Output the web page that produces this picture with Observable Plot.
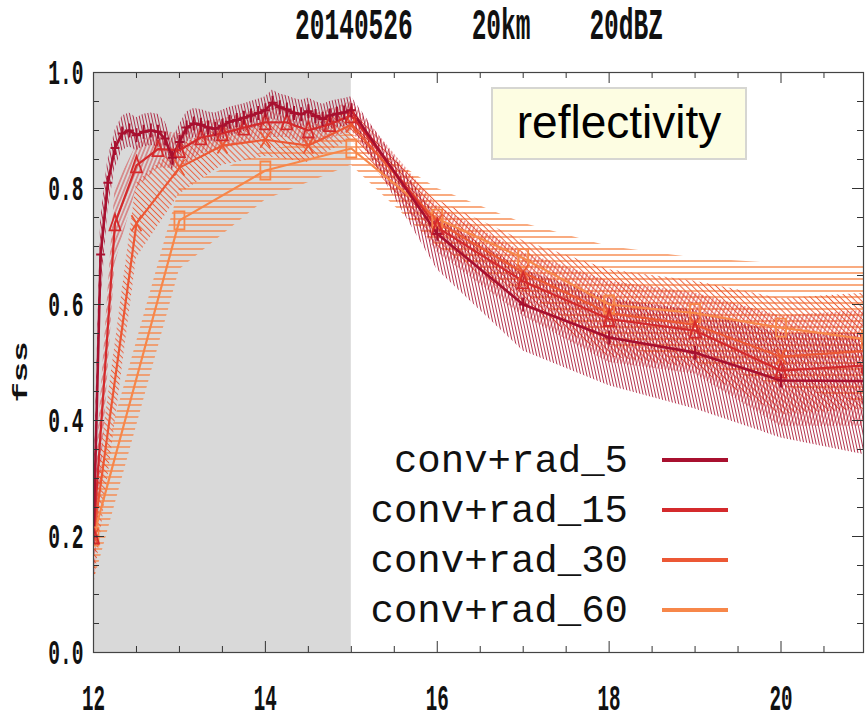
<!DOCTYPE html>
<html>
<head>
<meta charset="utf-8">
<script src="https://cdn.jsdelivr.net/npm/d3@7"></script>
<script src="https://cdn.jsdelivr.net/npm/@observablehq/plot@0.6"></script>
<style>
  body { margin: 0; background: #fff; }
  #wrap { position: relative; width: 866px; height: 720px; overflow: hidden; }
  #title { height: 60px; position: relative; }
  #title span { position: absolute; left: 479px; top: 5px; white-space: pre; font-family: "Liberation Mono", monospace; font-weight: bold; font-size: 45px; line-height: 45px; color: #111; transform: translate(-50%, 0) scaleX(0.545); }
  #ylab { position: absolute; left: 22px; top: 372px; font-family: "Liberation Mono", monospace; font-weight: bold; font-size: 34px; line-height: 34px; white-space: pre; color: #111; transform: translate(-50%, -50%) scale(0.6, 1) rotate(-90deg); }
  #note { position: absolute; left: 491px; top: 87px; width: 256px; height: 73px; box-sizing: border-box; background: #fdfde2; border: 2px solid #d6d6d2; font-family: "Liberation Sans", Arial, sans-serif; font-size: 46px; line-height: 66px; text-align: center; color: #000; }
  .lgtext { position: absolute; right: 238px; font-family: "Liberation Mono", monospace; font-size: 39px; line-height: 39px; white-space: pre; color: #111; }
  .lgline { position: absolute; left: 662px; width: 66px; height: 4px; }
</style>
</head>
<body>
<div id="wrap">
  <div id="title"><span></span></div>
</div>
<script>
// ---------- data ----------
const titleText = "20140526    20km    20dBZ";
const yTitle = "fss";
const noteText = "reflectivity";
const seriesNames = ["conv+rad_5", "conv+rad_15", "conv+rad_30", "conv+rad_60"];
const seriesColors = ["#a8102f", "#d42a2c", "#ec5835", "#f7874a"];

const t5 = [12.000,12.083,12.167,12.250,12.333,12.417,12.500,12.583,12.667,12.750,12.833,12.917,13.000,13.083,13.167,13.250,13.333,13.417,13.500,13.583,13.667,13.750,13.833,13.917,14.000,14.083,14.167,14.250,14.333,14.417,14.500,14.583,14.667,14.750,14.833,14.917,15.000,16,17,18,19,20,21];
const fss5 = [0.200,0.686,0.810,0.870,0.895,0.900,0.892,0.898,0.900,0.898,0.886,0.853,0.880,0.905,0.912,0.910,0.905,0.903,0.908,0.915,0.918,0.922,0.926,0.930,0.935,0.948,0.940,0.936,0.930,0.928,0.933,0.925,0.920,0.926,0.929,0.931,0.935,0.722,0.600,0.543,0.517,0.469,0.468];
const lo5 = [0.10,0.60,0.76,0.835,0.865,0.872,0.865,0.872,0.874,0.872,0.86,0.83,0.855,0.88,0.888,0.886,0.882,0.88,0.885,0.89,0.894,0.898,0.902,0.906,0.91,0.92,0.915,0.912,0.906,0.904,0.908,0.90,0.896,0.902,0.905,0.907,0.91,0.66,0.52,0.46,0.42,0.37,0.34];
const hi5 = [0.26,0.75,0.85,0.90,0.925,0.93,0.922,0.928,0.93,0.928,0.915,0.885,0.91,0.932,0.938,0.936,0.932,0.93,0.935,0.94,0.943,0.946,0.95,0.954,0.958,0.97,0.963,0.96,0.955,0.952,0.956,0.95,0.945,0.95,0.953,0.955,0.958,0.75,0.66,0.61,0.59,0.55,0.55];

const t15 = [12,12.25,12.5,12.75,13,13.25,13.5,13.75,14,14.25,14.5,14.75,15,16,17,18,19,20,21];
const fss15 = [0.20,0.740,0.840,0.868,0.866,0.888,0.895,0.905,0.914,0.914,0.900,0.911,0.926,0.733,0.640,0.575,0.555,0.486,0.495];
const lo15 = [0.10,0.67,0.80,0.835,0.835,0.86,0.868,0.878,0.888,0.888,0.874,0.885,0.90,0.69,0.58,0.50,0.48,0.39,0.39];
const hi15 = [0.26,0.80,0.875,0.90,0.895,0.915,0.92,0.93,0.938,0.938,0.926,0.936,0.95,0.77,0.69,0.64,0.62,0.58,0.59];

const t30 = [12,12.5,13,13.5,14,14.5,15,16,17,18,19,20,21];
const fss30 = [0.20,0.740,0.836,0.874,0.884,0.874,0.910,0.742,0.655,0.585,0.565,0.510,0.520];
const lo30 = [0.11,0.68,0.79,0.84,0.855,0.845,0.885,0.70,0.60,0.51,0.49,0.41,0.42];
const hi30 = [0.25,0.81,0.875,0.905,0.912,0.905,0.935,0.78,0.71,0.66,0.64,0.61,0.62];

const t60 = [12,13,14,15,16,17,18,19,20,21];
const fss60 = [0.20,0.745,0.831,0.869,0.748,0.680,0.600,0.585,0.560,0.540];
const lo60 = [0.12,0.66,0.78,0.84,0.70,0.62,0.53,0.50,0.46,0.43];
const hi60 = [0.27,0.80,0.865,0.895,0.80,0.74,0.70,0.68,0.67,0.67];

const shadeStart = [12];
const shadeEnd = [15];
const xLabelTicks = [12,14,16,18,20];
const xMinorTicks = [12.5,13,13.5,14.5,15,15.5,16.5,17,17.5,18.5,19,19.5,20.5];
const yLabelTicks = [0,0.2,0.4,0.6,0.8,1.0];
const yMinorTicks = [0.05,0.1,0.15,0.25,0.3,0.35,0.45,0.5,0.55,0.65,0.7,0.75,0.85,0.9,0.95];

// ---------- tables ----------
const mk = (t, v, lo, hi) => t.map((d, i) => ({t: d, v: v[i], lo: lo[i], hi: hi[i]}));
const s5 = mk(t5, fss5, lo5, hi5);
const s15 = mk(t15, fss15, lo15, hi15);
const s30 = mk(t30, fss30, lo30, hi30);
const s60 = mk(t60, fss60, lo60, hi60);
const shade = shadeStart.map((d, i) => ({start: d, end: shadeEnd[i]}));

const [c5, c15, c30, c60] = seriesColors;

// markers (vertically stretched like the reference)
const symPlus = {draw(c) { c.moveTo(-4.5, 0); c.lineTo(4.5, 0); c.moveTo(0, -7); c.lineTo(0, 7); }};
const symTri = {draw(c) { c.moveTo(0, -9); c.lineTo(5.5, 7); c.lineTo(-5.5, 7); c.closePath(); }};
const symTimes = {draw(c) { c.moveTo(-5, -8); c.lineTo(5, 8); c.moveTo(5, -8); c.lineTo(-5, 8); }};
const symSquare = {draw(c) { c.moveTo(-5, -9); c.lineTo(5, -9); c.lineTo(5, 9); c.lineTo(-5, 9); c.closePath(); }};

const W = 866, H = 660, mL = 93, mR = 3, mT = 12, mB = 68;
const pw = W - mL - mR, ph = H - mT - mB;
const font = "Liberation Mono, monospace";
const tickCol = "#333";

const plot = Plot.plot({
  width: W, height: H,
  marginLeft: mL, marginRight: mR, marginTop: mT, marginBottom: mB,
  style: {background: "#fff", color: "#111", overflow: "visible"},
  x: {domain: [12, 20.96]},
  y: {domain: [0, 1]},
  marks: [
    Plot.rect(shade, {x1: "start", x2: "end", fill: "#d9d9d9"}),
    // hatched spread bands
    Plot.areaY(s60, {x: "t", y1: "lo", y2: "hi", fill: "url(#h60)", clip: true}),
    Plot.areaY(s30, {x: "t", y1: "lo", y2: "hi", fill: "url(#h30)", clip: true}),
    Plot.areaY(s15, {x: "t", y1: "lo", y2: "hi", fill: "url(#h15)", clip: true}),
    Plot.areaY(s5, {x: "t", y1: "lo", y2: "hi", fill: "url(#h5)", clip: true}),
    // lines
    Plot.line(s60, {x: "t", y: "v", stroke: c60, strokeWidth: 2.2, clip: true}),
    Plot.line(s30, {x: "t", y: "v", stroke: c30, strokeWidth: 2.2, clip: true}),
    Plot.line(s15, {x: "t", y: "v", stroke: c15, strokeWidth: 2.2, clip: true}),
    Plot.line(s5, {x: "t", y: "v", stroke: c5, strokeWidth: 2.6, clip: true}),
    // markers
    Plot.dot(s60, {x: "t", y: "v", symbol: symSquare, stroke: c60, fill: "none", strokeWidth: 1.8, clip: true}),
    Plot.dot(s30, {x: "t", y: "v", symbol: symTimes, stroke: c30, fill: "none", strokeWidth: 1.8, clip: true}),
    Plot.dot(s15, {x: "t", y: "v", symbol: symTri, stroke: c15, fill: "none", strokeWidth: 1.8, clip: true}),
    Plot.dot(s5, {x: "t", y: "v", symbol: symPlus, stroke: c5, fill: "none", strokeWidth: 2, clip: true}),
    // inward ticks
    Plot.tickX(xMinorTicks, {x: d => d, insetTop: ph - 6, stroke: tickCol}),
    Plot.tickX(xLabelTicks, {x: d => d, insetTop: ph - 11, stroke: tickCol}),
    Plot.tickX(xMinorTicks, {x: d => d, insetBottom: ph - 6, stroke: tickCol}),
    Plot.tickX(xLabelTicks, {x: d => d, insetBottom: ph - 11, stroke: tickCol}),
    Plot.tickY(yMinorTicks, {y: d => d, insetRight: pw - 6, stroke: tickCol}),
    Plot.tickY(yLabelTicks, {y: d => d, insetRight: pw - 11, stroke: tickCol}),
    Plot.tickY(yMinorTicks, {y: d => d, insetLeft: pw - 6, stroke: tickCol}),
    Plot.tickY(yLabelTicks, {y: d => d, insetLeft: pw - 11, stroke: tickCol}),
    Plot.frame({stroke: "#444", strokeWidth: 1.2}),
    // tick labels
    Plot.axisX(xLabelTicks, {tickSize: 0, tickPadding: 31, tickFormat: d => String(d), fontSize: 37, fontFamily: font, fontWeight: "bold", label: null}),
    Plot.axisY(yLabelTicks, {tickSize: 0, tickPadding: 10, tickFormat: d => d.toFixed(1), fontSize: 35, fontFamily: font, fontWeight: "bold", label: null})
  ]
});

// hatch patterns for the spread bands
const ns = "http://www.w3.org/2000/svg";
const defs = document.createElementNS(ns, "defs");
const patterns = [
  {id: "h5", color: c5, gap: 3, rot: -12, w: 0.9, op: 0.95},
  {id: "h15", color: c15, gap: 3.6, rot: 22, w: 0.9, op: 0.95},
  {id: "h30", color: c30, gap: 4.2, rot: -45, w: 1.0, op: 0.95},
  {id: "h60", color: c60, gap: 6, rot: 90, w: 1.4, op: 1}
];
for (const p of patterns) {
  const pat = document.createElementNS(ns, "pattern");
  pat.setAttribute("id", p.id);
  pat.setAttribute("patternUnits", "userSpaceOnUse");
  pat.setAttribute("width", p.gap);
  pat.setAttribute("height", 20);
  pat.setAttribute("patternTransform", `rotate(${p.rot})`);
  const ln = document.createElementNS(ns, "line");
  ln.setAttribute("x1", p.gap / 2); ln.setAttribute("x2", p.gap / 2);
  ln.setAttribute("y1", 0); ln.setAttribute("y2", 20);
  ln.setAttribute("stroke", p.color);
  ln.setAttribute("stroke-width", p.w);
  ln.setAttribute("stroke-opacity", p.op);
  pat.appendChild(ln);
  defs.appendChild(pat);
}
plot.insertBefore(defs, plot.firstChild);

// narrow the tick labels horizontally like the reference lettering
function squeeze(label, sx) {
  plot.querySelectorAll(`g[aria-label="${label}"] text`).forEach(t => {
    let tr = t.getAttribute("transform") || "";
    const x = t.getAttribute("x");
    if (x != null && !isNaN(+x)) { tr += ` translate(${x},0)`; t.removeAttribute("x"); }
    t.setAttribute("transform", `${tr} scale(${sx},1)`);
  });
}
squeeze("x-axis tick label", 0.52);
squeeze("y-axis tick label", 0.56);

const wrap = document.getElementById("wrap");
document.querySelector("#title span").textContent = titleText;
wrap.appendChild(plot);

const yl = document.createElement("div");
yl.id = "ylab"; yl.textContent = yTitle;
wrap.appendChild(yl);

const note = document.createElement("div");
note.id = "note"; note.textContent = noteText;
wrap.appendChild(note);

const rowCenters = [460, 510, 560, 610];
seriesNames.forEach((name, i) => {
  const tx = document.createElement("div");
  tx.className = "lgtext";
  tx.textContent = name;
  tx.style.top = (rowCenters[i] + 13 - 30) + "px";
  wrap.appendChild(tx);
  const ln = document.createElement("div");
  ln.className = "lgline";
  ln.style.top = (rowCenters[i] - 2) + "px";
  ln.style.background = seriesColors[i];
  wrap.appendChild(ln);
});
</script>
</body>
</html>
